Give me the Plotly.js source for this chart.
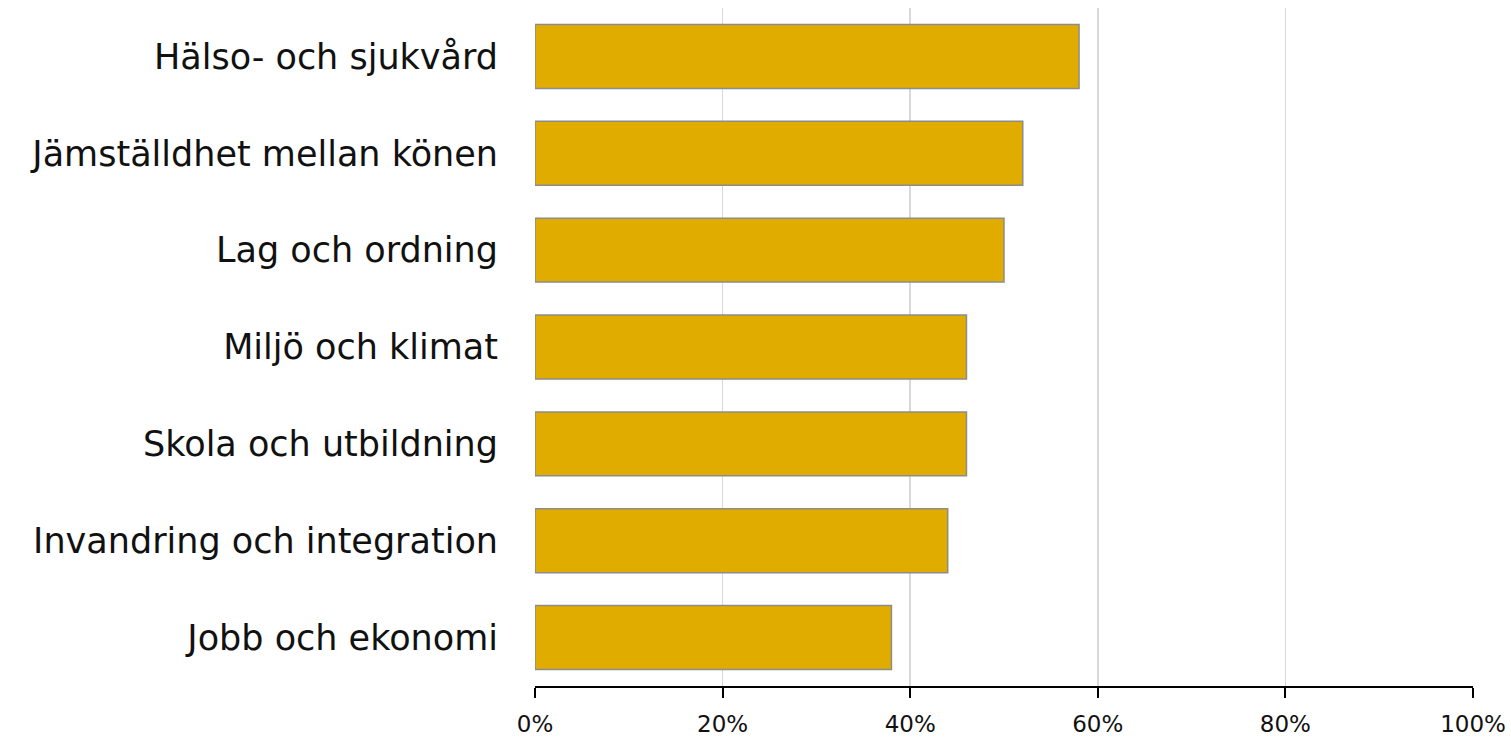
<!DOCTYPE html>
<html>
<head>
<meta charset="utf-8">
<script src="https://cdn.plot.ly/plotly-3.0.1.min.js"></script>
<style>html,body{margin:0;padding:0;background:#fff;}#chart{width:1511px;height:738px;}</style>
</head>
<body>
<div id="chart"></div>
<script>
const categories = ["Hälso- och sjukvård","Jämställdhet mellan könen","Lag och ordning","Miljö och klimat","Skola och utbildning","Invandring och integration","Jobb och ekonomi"];
const values = [0.58, 0.52, 0.50, 0.46, 0.46, 0.44, 0.38];
const tickVals = [0, 0.2, 0.4, 0.6, 0.8, 1.0];
const tickLabels = ["0%","20%","40%","60%","80%","100%"];

const font = "'DejaVu Sans', sans-serif";
Plotly.newPlot("chart", [{
  type: "bar",
  orientation: "h",
  y: categories,
  x: values,
  marker: {color: "#E0AC00", line: {color: "#8C8C8C", width: 1.5}},
  hoverinfo: "skip"
}], {
  width: 1511, height: 738,
  margin: {l: 535, r: 38, t: 8, b: 52},
  paper_bgcolor: "#fff", plot_bgcolor: "#fff",
  bargap: 0.34,
  showlegend: false,
  xaxis: {
    range: [0, 1], tickvals: tickVals, ticktext: tickLabels,
    showgrid: true, gridcolor: "#D9D9D9", gridwidth: 1.5,
    zeroline: false,
    showline: true, linecolor: "#000", linewidth: 2,
    ticks: "outside", ticklen: 10, tickwidth: 2, tickcolor: "#000",
    ticklabelstandoff: 6,
    tickfont: {family: font, size: 23, color: "#111", weight: 400},
    fixedrange: true
  },
  yaxis: {
    autorange: "reversed",
    showgrid: false, zeroline: false, showline: false,
    ticks: "", ticklabelstandoff: 36,
    tickfont: {family: font, size: 35, color: "#111", weight: 400},
    fixedrange: true
  }
}, {displayModeBar: false, staticPlot: true});
</script>
</body>
</html>
